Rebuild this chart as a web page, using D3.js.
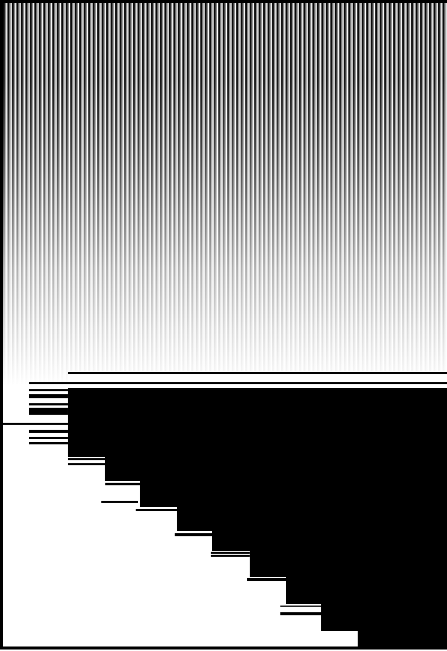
<!DOCTYPE html>
<html>
<head>
<meta charset="utf-8">
<script src="https://cdn.jsdelivr.net/npm/d3@7"></script>
<style>
  html, body { margin: 0; padding: 0; background: #fff; overflow: hidden; }
</style>
</head>
<body>
<div id="chart"></div>
<script>
// Data
const stripeCols = d3.range(99);                       // columns of the top block
const fadeDepth = [0, 0.2, 0.4, 0.55, 0.7, 0.85, 1];    // depth in the block (0 = top)
const fadeLevel = [0.95, 0.85, 0.6, 0.4, 0.22, 0.1, 0]; // stripe darkness at that depth

// staircase: start of each step (x units) and bottom of the filled part (y units)
const stepStart = [18, 28.25, 37.95, 48.2, 57.9, 68.4, 78.4, 88.1, 98.3, 123];
const stepBottom = [33.9, 43.4, 53.8, 63.4, 71.3, 81.7, 92.5, 103.2, 109.6, 109.6];
const stairTop = 6.4;

// rule segments: start, end, row, thickness (all in chart units)
const ruleStart = [18, 7.2, 7.2, 7.2, 7.2, 7.2, 0, 7.2, 7.2, 7.2,
                   18, 18, 28.3, 27.2, 36.8, 47.6, 57.6, 57.6, 67.6, 76.8, 76.8];
const ruleEnd   = [123, 123, 18, 18, 18, 18, 18, 18, 18, 18,
                   28.3, 28.3, 38, 37.4, 48.2, 57.9, 68.4, 68.4, 78.4, 88.4, 88.4];
const ruleRow   = [0, 4, 6.8, 8.8, 12.4, 14.3, 20.3, 23.1, 25.9, 27.9,
                   34.3, 36.3, 44.2, 51.4, 54.6, 64.2, 71.7, 72.9, 82.1, 93.1, 95.7];
const ruleSize  = [0.8, 0.8, 0.8, 1.6, 0.9, 2.8, 0.8, 1.2, 0.8, 0.9,
                   0.8, 0.8, 0.9, 0.8, 0.8, 1.2, 0.8, 0.8, 1.2, 0.5, 1.2];

const width = 447, height = 651;
const svg = d3.select("#chart").append("svg")
    .attr("width", width)
    .attr("height", height);

const x = d3.scaleLinear().domain([0, 123]).range([3, 447]);
const y = d3.scaleLinear().domain([0, 110]).range([372, 648]);
const col = d3.scaleBand().domain(stripeCols).range([3, 447]);

const blockTop = 3, blockBottom = 386;

// gradients for the top block
const defs = svg.append("defs");
const darkGrad = defs.append("linearGradient")
    .attr("id", "darkFade")
    .attr("gradientUnits", "userSpaceOnUse")
    .attr("x1", 0).attr("x2", 0)
    .attr("y1", blockTop).attr("y2", blockBottom);
darkGrad.selectAll("stop")
    .data(fadeDepth)
    .enter().append("stop")
    .attr("offset", d => d)
    .attr("stop-color", "#000")
    .attr("stop-opacity", (d, i) => fadeLevel[i]);

const greyGrad = defs.append("linearGradient")
    .attr("id", "greyFade")
    .attr("gradientUnits", "userSpaceOnUse")
    .attr("x1", 0).attr("x2", 0)
    .attr("y1", blockTop).attr("y2", blockBottom);
greyGrad.selectAll("stop")
    .data(fadeDepth)
    .enter().append("stop")
    .attr("offset", d => d)
    .attr("stop-color", "#000")
    .attr("stop-opacity", (d, i) => fadeLevel[i] * 0.5);

// top block: grey ground, dark stripes
svg.append("rect")
    .attr("x", 3).attr("y", blockTop)
    .attr("width", 444).attr("height", blockBottom - blockTop)
    .attr("fill", "url(#greyFade)");

svg.append("g")
    .selectAll("rect.dark")
    .data(stripeCols)
    .enter().append("rect")
    .attr("class", "dark")
    .attr("x", d => col(d))
    .attr("y", blockTop)
    .attr("width", col.bandwidth() * 0.4)
    .attr("height", blockBottom - blockTop)
    .attr("fill", "url(#darkFade)");

svg.append("g")
    .selectAll("rect.light")
    .data(stripeCols)
    .enter().append("rect")
    .attr("class", "light")
    .attr("x", d => col(d) + col.bandwidth() * 0.72)
    .attr("y", blockTop)
    .attr("width", col.bandwidth() * 0.22)
    .attr("height", blockBottom - blockTop)
    .attr("fill", "#fff");

// white under the block's fade-out area on the right of the rules
svg.append("rect")
    .attr("x", x(18)).attr("y", y(0) - 1)
    .attr("width", x(123) - x(18)).attr("height", y(stairTop) - y(0) + 1)
    .attr("fill", "#fff");
svg.append("rect")
    .attr("x", x(0)).attr("y", y(stairTop))
    .attr("width", x(123) - x(0)).attr("height", 648 - y(stairTop))
    .attr("fill", "#fff");

// staircase
const stairData = stepStart.map((s, i) => ({ s, b: stepBottom[i] }));
const area = d3.area()
    .curve(d3.curveStepAfter)
    .x(d => x(d.s))
    .y0(y(stairTop))
    .y1(d => y(d.b));

svg.append("path")
    .datum(stairData)
    .attr("d", area)
    .attr("fill", "#000");

// rule segments
const rules = ruleStart.map((s, i) => ({ s, e: ruleEnd[i], r: ruleRow[i], t: ruleSize[i] }));
svg.append("g")
    .selectAll("rect")
    .data(rules)
    .enter().append("rect")
    .attr("x", d => x(d.s))
    .attr("y", d => y(d.r))
    .attr("width", d => x(d.e) - x(d.s))
    .attr("height", d => y(d.r + d.t) - y(d.r))
    .attr("fill", "#000");

// frame
svg.append("rect")
    .attr("x", 1.5).attr("y", 1.5)
    .attr("width", 448).attr("height", 646.5)
    .attr("fill", "none")
    .attr("stroke", "#000")
    .attr("stroke-width", 3);
</script>
</body>
</html>
